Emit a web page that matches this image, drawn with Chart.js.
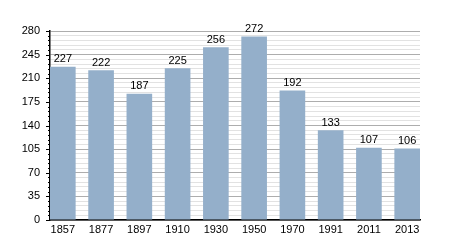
<!DOCTYPE html>
<html><head><meta charset="utf-8">
<script src="https://cdn.jsdelivr.net/npm/chart.js@4/dist/chart.umd.min.js"></script>
<style>html,body{margin:0;padding:0;background:#fff}#wrap{width:450px;height:250px}</style>
</head><body><div id="wrap"><canvas id="c" width="450" height="250"></canvas></div>
<script>
const years = ["1857","1877","1897","1910","1930","1950","1970","1991","2011","2013"];
const population = [227,222,187,225,256,272,192,133,107,106];
const yMax = 280;
const majorStep = 35;
const minorStep = 7;

const FONT = "'Liberation Sans', Arial, sans-serif";
const halfBar = 0.335;

const valueLabels = {
  id: 'valueLabels',
  afterDatasetsDraw(chart) {
    const ctx = chart.ctx;
    const meta = chart.getDatasetMeta(0);
    ctx.save();
    ctx.font = "11px " + FONT;
    ctx.fillStyle = "#000";
    ctx.textAlign = "center";
    ctx.textBaseline = "bottom";
    meta.data.forEach((bar, i) => {
      ctx.fillText(String(population[i]), bar.x, bar.y - 2);
    });
    ctx.restore();
  }
};

const axisTicks = {
  id: 'axisTicks',
  afterDraw(chart) {
    const ctx = chart.ctx;
    const y = chart.scales.y;
    const x0 = chart.chartArea.left;
    ctx.save();
    ctx.strokeStyle = "#000";
    ctx.lineWidth = 1;
    for (let v = 0; v <= yMax; v += minorStep) {
      const py = Math.round(y.getPixelForValue(v)) + 0.5;
      const len = (v % majorStep === 0) ? 4 : 2;
      ctx.beginPath();
      ctx.moveTo(x0 - len, py);
      ctx.lineTo(x0, py);
      ctx.stroke();
    }
    ctx.restore();
  }
};

new Chart(document.getElementById('c'), {
  type: 'bar',
  data: {
    datasets: [{
      data: population.map((v, i) => ({ x: i, y: v })),
      backgroundColor: '#94afca',
      borderWidth: 0,
      categoryPercentage: 2 * halfBar,
      barPercentage: 1.0
    }]
  },
  options: {
    responsive: false,
    animation: false,
    events: [],
    layout: { padding: { top: 31, right: 30, left: 0, bottom: 0 } },
    plugins: { legend: { display: false }, tooltip: { enabled: false } },
    scales: {
      x: {
        type: 'linear',
        offset: false,
        min: -halfBar, max: years.length - 1 + halfBar,
        grid: { display: false, drawTicks: false },
        border: { color: '#000', width: 1.5 },
        ticks: {
          stepSize: 1, includeBounds: false, autoSkip: false,
          color: '#000', font: { family: FONT, size: 11 }, padding: 3, maxRotation: 0,
          callback: (v) => Number.isInteger(v) && years[v] !== undefined ? years[v] : ''
        },
        afterFit(s) { s.height = 30; }
      },
      y: {
        min: 0, max: yMax,
        grid: {
          drawTicks: false,
          color: (c) => (c.tick && c.tick.value % majorStep === 0) ? '#adadad' : '#e2e2e2',
          lineWidth: 1
        },
        border: { color: '#000', width: 1.5 },
        ticks: {
          stepSize: minorStep,
          autoSkip: false,
          color: '#000',
          font: { family: FONT, size: 11 },
          padding: 10,
          callback: (v) => (v % majorStep === 0) ? String(v) : ''
        },
        afterFit(s) { s.width = 50; }
      }
    }
  },
  plugins: [valueLabels, axisTicks]
});
</script>
</body></html>
